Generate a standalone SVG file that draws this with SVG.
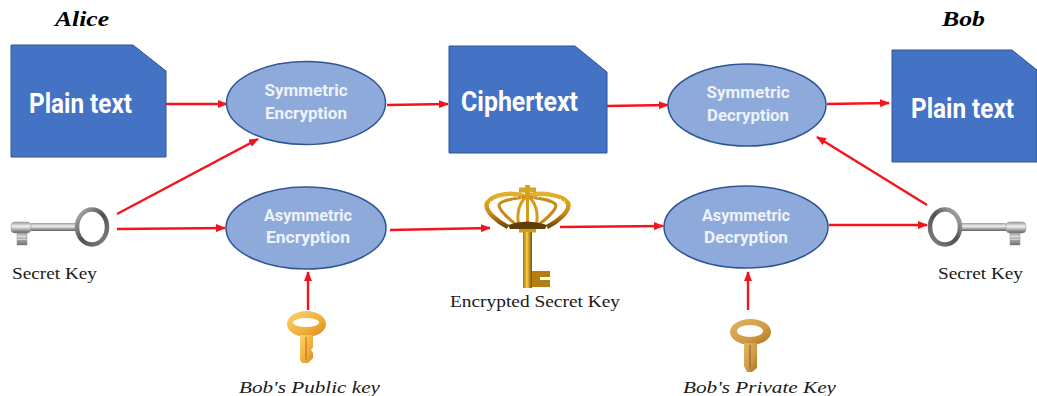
<svg xmlns="http://www.w3.org/2000/svg" width="1037" height="396" viewBox="0 0 1037 396">
<style>
.doc{fill:#4472c4;stroke:#2f5597;stroke-width:1}
.el{fill:#8eaadb;stroke:#2f5597;stroke-width:1.5}
.dt{font-family:"Roboto","Liberation Sans",sans-serif;font-weight:700;fill:#fff;font-size:28px}
.et{font-family:"Roboto","Liberation Sans",sans-serif;font-weight:700;fill:#eef3fb;font-size:17px;text-anchor:middle}
.lb{font-family:"Liberation Serif",serif;fill:#1a1a1a;font-size:17px}
.it{font-family:"Liberation Serif",serif;font-style:italic;fill:#1a1a1a;font-size:17px}
.hd{font-family:"Liberation Serif",serif;font-style:italic;font-weight:700;fill:#000;font-size:20px}
.cn{stroke:#f5141c;stroke-width:2.4;fill:none;marker-end:url(#ah)}
</style>
<defs>
<marker id="ah" markerUnits="userSpaceOnUse" markerWidth="10" markerHeight="8" refX="9" refY="4" orient="auto"><path d="M0 0L10 4L0 8z" fill="#f5141c"/></marker>
<linearGradient id="silver" x1="0" y1="0" x2="0" y2="1"><stop offset="0" stop-color="#9c9c9c"/><stop offset=".4" stop-color="#f2f2f2"/><stop offset="1" stop-color="#5e5e5e"/></linearGradient>
<linearGradient id="ring" x1="0" y1="0" x2="1" y2="1"><stop offset="0" stop-color="#b8b8b8"/><stop offset=".5" stop-color="#4f4f4f"/><stop offset="1" stop-color="#848484"/></linearGradient>
<linearGradient id="gold" x1="0" y1="0" x2="1" y2="0"><stop offset="0" stop-color="#a86f08"/><stop offset=".45" stop-color="#f5d040"/><stop offset="1" stop-color="#7a4e05"/></linearGradient>
<linearGradient id="crown" x1="0" y1="0" x2="0" y2="1"><stop offset="0" stop-color="#e3b02c"/><stop offset=".6" stop-color="#c88c12"/><stop offset="1" stop-color="#6d4605"/></linearGradient>
<linearGradient id="amber" x1="0" y1="0" x2="1" y2="1"><stop offset="0" stop-color="#fbd46a"/><stop offset=".6" stop-color="#f0ae3a"/><stop offset="1" stop-color="#d58a1c"/></linearGradient>
<linearGradient id="bronze" x1="0" y1="0" x2="1" y2="1"><stop offset="0" stop-color="#e3b463"/><stop offset=".6" stop-color="#cf9a45"/><stop offset="1" stop-color="#a9701f"/></linearGradient>
<g id="silverkey">
<rect x="31" y="33" width="45" height="8" fill="url(#silver)"/>
<rect x="11" y="32" width="20" height="11" rx="4" fill="url(#silver)" stroke="#8a8a8a" stroke-width=".5"/>
<rect x="17" y="43" width="10" height="12" fill="url(#silver)" stroke="#999" stroke-width=".5"/>
<path d="M17 48H27M17 51H27" stroke="#777" stroke-width=".8"/>
<ellipse cx="92" cy="37" rx="15" ry="17.500" fill="#fff" stroke="url(#ring)" stroke-width="4.500"/>
</g>
</defs>

<g id="connectors">
<path class="cn" d="M166 104H227"/>
<path class="cn" d="M387 105L448 104"/>
<path class="cn" d="M607 106L668 105"/>
<path class="cn" d="M827 104L889 103"/>
<path class="cn" d="M117 214L258 139"/>
<path class="cn" d="M117 229L225 228"/>
<path class="cn" d="M390 230L490 228"/>
<path class="cn" d="M560 227L663 226"/>
<path class="cn" d="M829 225L927 225"/>
<path class="cn" d="M927 205L817 137"/>
<path class="cn" d="M308 310V272"/>
<path class="cn" d="M748 310V272"/>
</g>

<g id="alice"><text class="hd" x="55" y="26" textLength="54" lengthAdjust="spacingAndGlyphs">Alice</text></g>
<g id="bob"><text class="hd" x="942" y="26" textLength="43" lengthAdjust="spacingAndGlyphs">Bob</text></g>

<g id="plain-left">
<path class="doc" d="M11 45H133L166 71V157H11z"/>
<text class="dt" x="29" y="113" textLength="103" lengthAdjust="spacingAndGlyphs">Plain text</text>
</g>
<g id="ciphertext">
<path class="doc" d="M449 46H575L607 72V153H449z"/>
<text class="dt" x="461" y="111" textLength="117" lengthAdjust="spacingAndGlyphs">Ciphertext</text>
</g>
<g id="plain-right">
<path class="doc" d="M892 50H1012L1037 70V162H892z"/>
<text class="dt" x="911" y="118" textLength="103" lengthAdjust="spacingAndGlyphs">Plain text</text>
</g>

<g id="sym-enc">
<ellipse class="el" cx="306" cy="103" rx="79.500" ry="41.500"/>
<text class="et" x="306" y="96" textLength="83" lengthAdjust="spacingAndGlyphs">Symmetric</text>
<text class="et" x="306" y="119" textLength="82" lengthAdjust="spacingAndGlyphs">Encryption</text>
</g>
<g id="sym-dec">
<ellipse class="el" cx="747" cy="105" rx="79" ry="41"/>
<text class="et" x="748" y="98" textLength="83" lengthAdjust="spacingAndGlyphs">Symmetric</text>
<text class="et" x="748" y="121" textLength="82" lengthAdjust="spacingAndGlyphs">Decryption</text>
</g>
<g id="asym-enc">
<ellipse class="el" cx="306" cy="228" rx="80" ry="41"/>
<text class="et" x="308" y="221" textLength="88" lengthAdjust="spacingAndGlyphs">Asymmetric</text>
<text class="et" x="308" y="243" textLength="84" lengthAdjust="spacingAndGlyphs">Encryption</text>
</g>
<g id="asym-dec">
<ellipse class="el" cx="746" cy="227" rx="82" ry="41"/>
<text class="et" x="746" y="221" textLength="88" lengthAdjust="spacingAndGlyphs">Asymmetric</text>
<text class="et" x="746" y="243" textLength="84" lengthAdjust="spacingAndGlyphs">Decryption</text>
</g>

<g id="secret-key-left">
<use href="#silverkey" y="190"/>
<text class="lb" x="12" y="279" textLength="85" lengthAdjust="spacingAndGlyphs">Secret Key</text>
</g>
<g id="secret-key-right">
<use href="#silverkey" transform="translate(1037 190) scale(-1 1)"/>
<text class="lb" x="938" y="279" textLength="85" lengthAdjust="spacingAndGlyphs">Secret Key</text>
</g>

<g id="encrypted-key">
<path d="M527 197C512 191 493 194 487 203C484 211 498 222 508 227M527 197C537 191 562 194 568 203C571 211 557 222 547 227" fill="none" stroke="url(#crown)" stroke-width="4.500"/>
<path d="M527 197C514 198 498 201 499 206C501 213 510 220 518 226M527 197C540 198 556 201 556 206C554 213 545 220 537 226" fill="none" stroke="#c68c14" stroke-width="3"/>
<path d="M527.500 196C519 202 516 214 519 226M527.500 196C536 202 539 214 536 226M527.500 195V226" fill="none" stroke="#d39c1e" stroke-width="3"/>
<path d="M490 202C496 197 510 196 522 198M565 202C559 197 545 196 533 198" fill="none" stroke="#f7ecc4" stroke-width="1.200" stroke-dasharray="1.500 3"/>
<path d="M519 190H536M527.500 185V195" stroke="#d7a327" stroke-width="5" fill="none"/>
<path d="M508 225Q527 218 547 225L545 229H510z" fill="#5f3d06"/>
<rect x="519" y="229" width="17" height="3.500" fill="#d39c1e"/>
<rect x="523" y="232" width="9" height="56" fill="url(#gold)"/>
<path d="M532 271H550V277H540V280H550V287H532z" fill="#b67e10"/>
<text class="lb" x="450" y="307" textLength="170" lengthAdjust="spacingAndGlyphs">Encrypted Secret Key</text>
</g>

<g id="public-key">
<ellipse cx="306.500" cy="324" rx="19.500" ry="13" fill="url(#amber)"/>
<ellipse cx="306" cy="322.500" rx="13" ry="4.500" fill="#fff"/>
<path d="M300 335H313V347L311 350L313 353V358L308 363H302L300 360z" fill="url(#amber)"/>
<path d="M306 337V360" stroke="#b87318" stroke-width="1"/>
<text class="it" x="239" y="393" textLength="141" lengthAdjust="spacingAndGlyphs">Bob's Public key</text>
</g>
<g id="private-key">
<ellipse cx="750.500" cy="332" rx="20.500" ry="13" fill="url(#bronze)"/>
<ellipse cx="750" cy="331" rx="13" ry="6" fill="#fff"/>
<path d="M744 343H757V368L752 372H747L744 366z" fill="url(#bronze)"/>
<path d="M750 345V369" stroke="#8b5a17" stroke-width="1"/>
<text class="it" x="683" y="393" textLength="153" lengthAdjust="spacingAndGlyphs">Bob's Private Key</text>
</g>
</svg>
